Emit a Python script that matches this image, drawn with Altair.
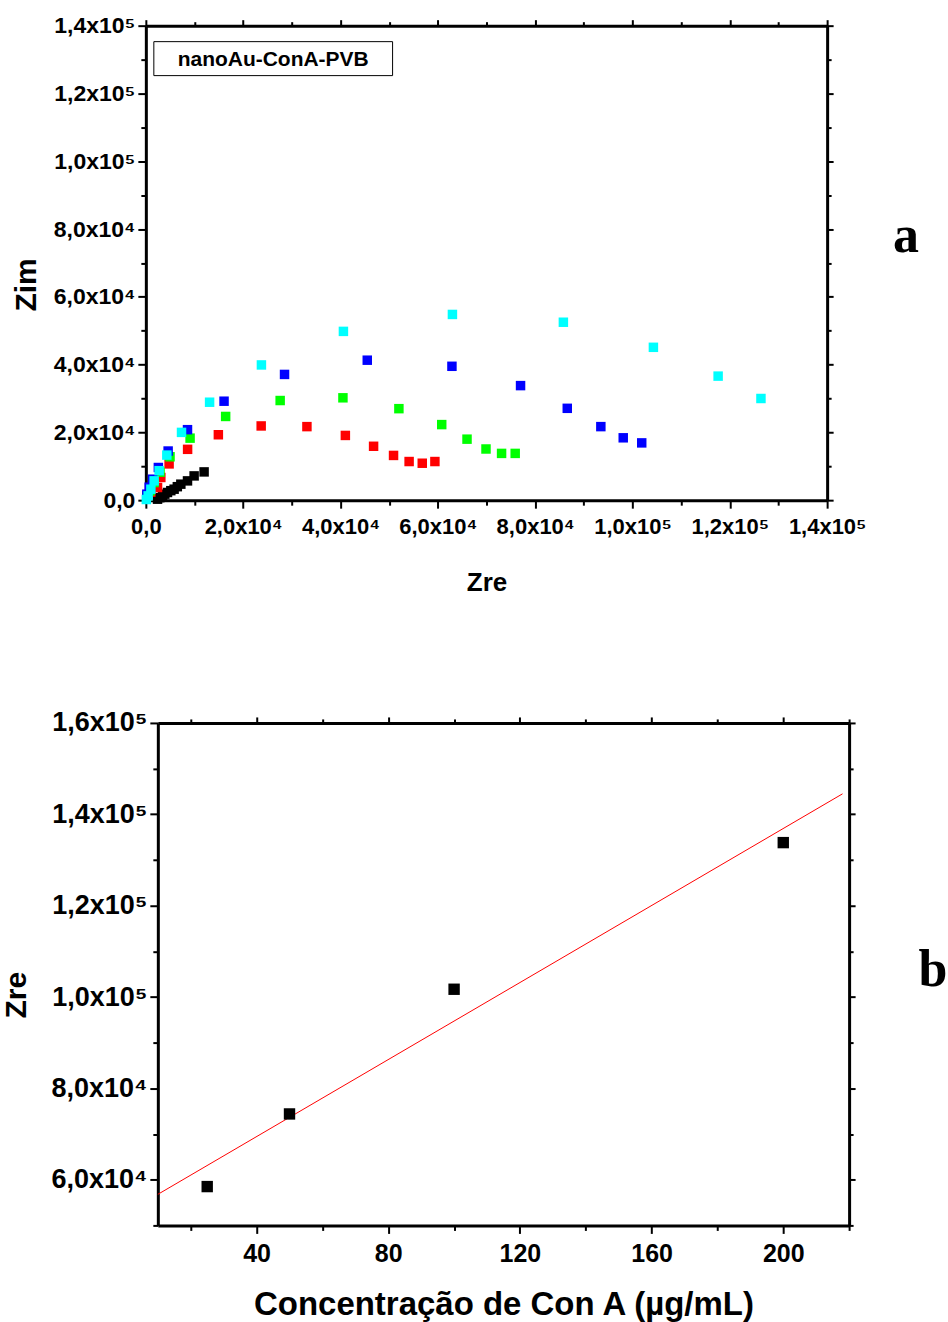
import altair as alt
import pandas as pd

# ---------------- data: panel a (Nyquist plots) ----------------
series_names = ["black", "red", "green", "blue", "cyan"]
series_colors = ["#000000", "#ff0000", "#00ff00", "#0000ff", "#00ffff"]

black_zre = [2400, 2870, 3430, 3900, 4450, 5130, 5810, 6470, 7190, 8560, 9920, 11970]
black_zim = [290, 740, 1270, 1770, 2270, 2800, 3240, 3980, 4720, 5690, 7160, 8340]

red_zre = [400, 1030, 2400, 3080, 4780, 8580, 14900, 23700, 33100, 41000, 46800, 50900, 54100, 56800, 59400]
red_zim = [1200, 2360, 3740, 6690, 10700, 15000, 19300, 21900, 21700, 19100, 15900, 13200, 11400, 10900, 11400]

green_zre = [200, 880, 1700, 2920, 4970, 9090, 16400, 27600, 40500, 52000, 60800, 66000, 69900, 73100, 75900]
green_zim = [1270, 2740, 5200, 8250, 12800, 18300, 24700, 29400, 30200, 27000, 22300, 18000, 15100, 13800, 13800]

blue_zre = [200, 680, 1380, 2570, 4580, 8560, 16070, 28500, 45500, 62900, 77000, 86600, 93500, 98100, 101900]
blue_zim = [1770, 3830, 6190, 9640, 14500, 20800, 29200, 37100, 41300, 39500, 33800, 27100, 21700, 18400, 16900]

cyan_zre = [100, 470, 1030, 1700, 2730, 4310, 7330, 13100, 23750, 40600, 63000, 85800, 104300, 117600, 126400]
cyan_zim = [200, 1270, 3240, 5700, 8700, 13300, 20000, 28900, 39900, 49800, 54800, 52500, 45100, 36600, 30000]

top_ticks = list(range(0, 140001, 10000))

# ---------------- data: panel b (calibration) ----------------
conc = [25, 50, 100, 200]
zre_b = [58500, 74400, 101700, 133800]
bx_ticks = list(range(20, 221, 20))
by_ticks = list(range(50000, 160001, 10000))

legend_text = ["nanoAu-ConA-PVB"]

FONT = "Liberation Sans"

rows = []
for name, xs_, ys_ in zip(series_names,
                          [black_zre, red_zre, green_zre, blue_zre, cyan_zre],
                          [black_zim, red_zim, green_zim, blue_zim, cyan_zim]):
    for a, b in zip(xs_, ys_):
        rows.append({"serie": name, "zre": a, "zim": b})
top_df = pd.DataFrame(rows)
bot_df = pd.DataFrame({"conc": conc, "zre": zre_b})


def sci_expr(step):
    e = "floor(log(datum.value)/LN10 + 1e-6)"
    mant = "replace(format(datum.value / pow(10, " + e + "), '.1f'), '.', ',')"
    return ("datum.value == 0 ? '0,0' : (datum.value % " + str(step) + " != 0 ? '' : "
            + mant + " + 'x10' + (" + e + " == 4 ? '⁴' : '⁵'))")


def tsize(step, big, small):
    return {"condition": {"test": "datum.value % " + str(step) + " == 0", "value": big}, "value": small}


# top panel: view is 670 wide, x range starts 12 px left of the view so that the
# frame sits 12 px further left than the bottom panel's frame (as in the original)
SHIFT = 12
W1, H1 = 670, 475
W2, H2 = 692, 503

xs1 = alt.Scale(domain=[0, 140000], range=[-SHIFT, W1], nice=False, zero=False)
ys1 = alt.Scale(domain=[0, 140000], nice=False, zero=False)

pts = alt.Chart(top_df).mark_square(size=90, opacity=1, strokeWidth=0).encode(
    x=alt.X("zre:Q", scale=xs1, axis=alt.Axis(
        values=top_ticks, labelExpr=sci_expr(20000), tickSize=tsize(20000, 8, 5),
        labelFontSize=22, labelPadding=8, labelFlush=False, labelOverlap=False,
        title="Zre", titleFontSize=26, titleX=329, titleY=82, titleBaseline="middle")),
    y=alt.Y("zim:Q", scale=ys1, axis=alt.Axis(
        offset=SHIFT,
        values=top_ticks, labelExpr=sci_expr(20000), tickSize=tsize(20000, 8, 5),
        labelFontSize=23, labelPadding=3, labelFlush=False, labelOverlap=False,
        title="Zim", titleFontSize=30, titleX=-119, titleY=259, titleBaseline="middle")),
    color=alt.Color("serie:N", scale=alt.Scale(domain=series_names, range=series_colors), legend=None),
)

mirror1 = alt.Chart(top_df).mark_square(opacity=0).encode(
    x=alt.X("zre:Q", scale=xs1, axis=alt.Axis(orient="top", labels=False, title=None,
                                               values=top_ticks, tickSize=tsize(20000, 6, 4))),
    y=alt.Y("zim:Q", scale=ys1, axis=alt.Axis(orient="right", labels=False, title=None,
                                               values=top_ticks, tickSize=tsize(20000, 6, 4))),
)

leg_box = alt.Chart(pd.DataFrame({"t": legend_text})).mark_rect(
    fill="white", stroke="black", strokeWidth=1).encode(
    x=alt.value(-4), x2=alt.value(235), y=alt.value(16), y2=alt.value(50))
leg_txt = alt.Chart(pd.DataFrame({"t": legend_text})).mark_text(
    font=FONT, fontWeight="bold", fontSize=21, align="center", baseline="middle", color="black").encode(
    x=alt.value(115.5), y=alt.value(34), text="t:N")

lab_a = alt.Chart(pd.DataFrame({"t": ["a"]})).mark_text(
    font="Liberation Serif", fontWeight="bold", fontSize=52, align="center", baseline="alphabetic",
    color="black").encode(x=alt.value(749), y=alt.value(227), text="t:N")

top = alt.layer(pts, mirror1, leg_box, leg_txt, lab_a).resolve_axis(
    x="independent", y="independent").properties(width=W1, height=H1)

# ---------------- panel b ----------------
xs2 = alt.Scale(domain=[10, 220], nice=False, zero=False)
ys2 = alt.Scale(domain=[50000, 160000], nice=False, zero=False)

bx_axis = alt.Axis(values=bx_ticks, labelExpr="datum.value % 40 == 0 ? datum.value : ''",
                   tickSize=tsize(40, 8, 5), labelFontSize=25, labelPadding=8, labelFlush=False,
                   labelOverlap=False, title="Concentração de Con A (µg/mL)", titleFontSize=33,
                   titleX=346, titleY=79, titleBaseline="middle")
by_axis = alt.Axis(values=by_ticks, labelExpr=sci_expr(20000), tickSize=tsize(20000, 8, 5),
                   labelFontSize=27, labelPadding=3, labelFlush=False, labelOverlap=False,
                   title="Zre", titleFontSize=30, titleX=-141, titleY=272, titleBaseline="middle")

line_b = alt.Chart(bot_df).transform_regression("conc", "zre", extent=[10, 218]).mark_line(
    color="#ff0000", strokeWidth=1).encode(
    x=alt.X("conc:Q", scale=xs2, axis=bx_axis),
    y=alt.Y("zre:Q", scale=ys2, axis=by_axis))

pts_b = alt.Chart(bot_df).mark_square(size=130, color="black", opacity=1, strokeWidth=0).encode(
    x=alt.X("conc:Q", scale=xs2, axis=bx_axis),
    y=alt.Y("zre:Q", scale=ys2, axis=by_axis))

mirror2 = alt.Chart(bot_df).mark_square(opacity=0).encode(
    x=alt.X("conc:Q", scale=xs2, axis=alt.Axis(orient="top", labels=False, title=None,
                                                values=bx_ticks, tickSize=tsize(40, 6, 4))),
    y=alt.Y("zre:Q", scale=ys2, axis=alt.Axis(orient="right", labels=False, title=None,
                                               values=by_ticks, tickSize=tsize(20000, 6, 4))))

lab_b = alt.Chart(pd.DataFrame({"t": ["b"]})).mark_text(
    font="Liberation Serif", fontWeight="bold", fontSize=52, align="center", baseline="alphabetic",
    color="black").encode(x=alt.value(776), y=alt.value(263), text="t:N")

bottom = alt.layer(alt.layer(line_b, pts_b), mirror2, lab_b).resolve_axis(
    x="independent", y="independent").properties(width=W2, height=H2)

chart = alt.vconcat(top, bottom, spacing=114).properties(
    padding={"left": 2, "top": 14, "right": 0, "bottom": 0}
).configure_view(stroke=None).configure_axis(
    grid=False, domainColor="black", domainWidth=3, tickColor="black", tickWidth=2,
    labelFont=FONT, labelFontWeight="bold", labelColor="black",
    titleFont=FONT, titleFontWeight="bold", titleColor="black",
)

chart.save("out.html", embed_options={"renderer": "svg", "actions": False})
